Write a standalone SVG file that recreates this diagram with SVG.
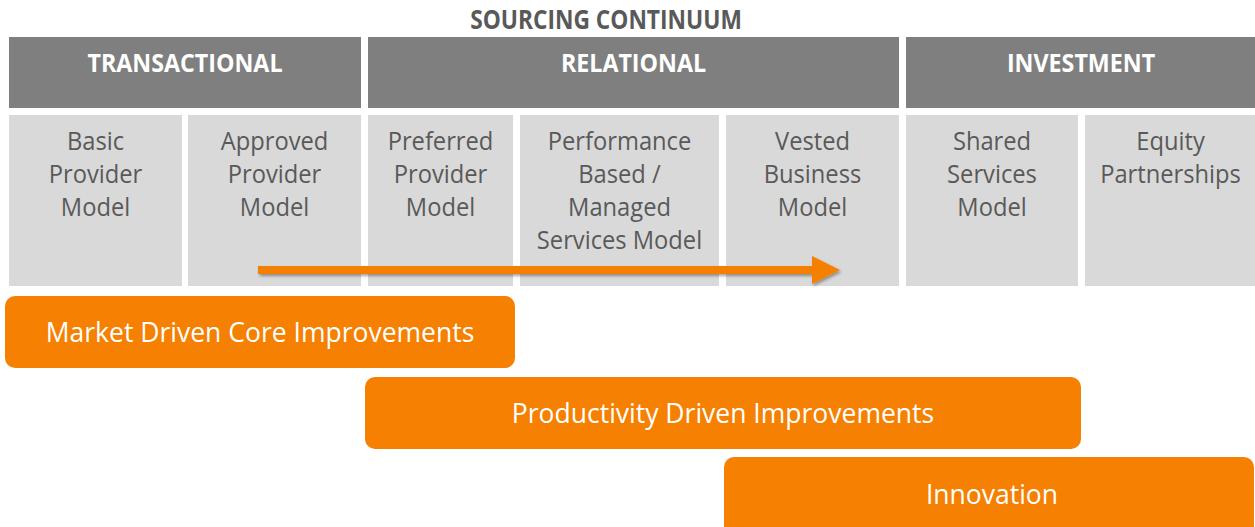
<svg xmlns="http://www.w3.org/2000/svg" width="1255" height="527" viewBox="0 0 1255 527">
<style>
.hdr{fill:#7F7F7F}
.cell{fill:#D9D9D9}
.bar{fill:#F58002}
.title{font-family:"Open Sans","Liberation Sans",sans-serif;font-weight:bold;font-size:26px;fill:#595959;text-anchor:middle}
.ht{font-family:"Open Sans","Liberation Sans",sans-serif;font-weight:bold;font-size:25px;fill:#FFFFFF;text-anchor:middle}
.ct{font-family:"Open Sans","Liberation Sans",sans-serif;font-size:25.5px;fill:#595959;text-anchor:middle}
.bt{font-family:"Open Sans","Liberation Sans",sans-serif;font-size:26.5px;fill:#FFFFFF;text-anchor:middle}
</style>
<defs>
<filter id="sh" x="-5%" y="-50%" width="110%" height="200%">
<feDropShadow dx="1.5" dy="2" stdDeviation="1.5" flood-color="#000" flood-opacity="0.35"/>
</filter>
</defs>
<rect width="1255" height="527" fill="#FFFFFF"/>
<g transform="translate(606 0) scale(0.875 1)"><text class="title" x="0" y="29">SOURCING CONTINUUM</text></g>

<g id="hdr-transactional"><rect class="hdr" x="9" y="37" width="352" height="71"/><g transform="translate(185 0) scale(0.93 1)"><text class="ht" x="0" y="72">TRANSACTIONAL</text></g></g>
<g id="hdr-relational"><rect class="hdr" x="368" y="37" width="531" height="71"/><g transform="translate(633.5 0) scale(0.93 1)"><text class="ht" x="0" y="72">RELATIONAL</text></g></g>
<g id="hdr-investment"><rect class="hdr" x="906" y="37" width="350" height="71"/><g transform="translate(1081 0) scale(0.93 1)"><text class="ht" x="0" y="72">INVESTMENT</text></g></g>

<g id="cell-basic"><rect class="cell" x="9" y="115" width="173" height="171"/><g transform="translate(95.5 0) scale(0.93 1)"><text class="ct" x="0" y="150">Basic</text><text class="ct" x="0" y="183">Provider</text><text class="ct" x="0" y="216">Model</text></g></g>
<g id="cell-approved"><rect class="cell" x="188" y="115" width="173" height="171"/><g transform="translate(274.5 0) scale(0.93 1)"><text class="ct" x="0" y="150">Approved</text><text class="ct" x="0" y="183">Provider</text><text class="ct" x="0" y="216">Model</text></g></g>
<g id="cell-preferred"><rect class="cell" x="368" y="115" width="145" height="171"/><g transform="translate(440.5 0) scale(0.93 1)"><text class="ct" x="0" y="150">Preferred</text><text class="ct" x="0" y="183">Provider</text><text class="ct" x="0" y="216">Model</text></g></g>
<g id="cell-performance"><rect class="cell" x="520" y="115" width="199" height="171"/><g transform="translate(619.5 0) scale(0.93 1)"><text class="ct" x="0" y="150">Performance</text><text class="ct" x="0" y="183">Based /</text><text class="ct" x="0" y="216">Managed</text><text class="ct" x="0" y="249">Services Model</text></g></g>
<g id="cell-vested"><rect class="cell" x="726" y="115" width="173" height="171"/><g transform="translate(812.5 0) scale(0.93 1)"><text class="ct" x="0" y="150">Vested</text><text class="ct" x="0" y="183">Business</text><text class="ct" x="0" y="216">Model</text></g></g>
<g id="cell-shared"><rect class="cell" x="906" y="115" width="172" height="171"/><g transform="translate(992 0) scale(0.93 1)"><text class="ct" x="0" y="150">Shared</text><text class="ct" x="0" y="183">Services</text><text class="ct" x="0" y="216">Model</text></g></g>
<g id="cell-equity"><rect class="cell" x="1085" y="115" width="171" height="171"/><g transform="translate(1170.5 0) scale(0.93 1)"><text class="ct" x="0" y="150">Equity</text><text class="ct" x="0" y="183">Partnerships</text></g></g>

<g id="connectors">
<g filter="url(#sh)">
<rect class="bar" x="258" y="266" width="556" height="8"/>
<polygon class="bar" points="812,256 840,270 812,284"/>
</g>
</g>

<g id="bar-market"><rect class="bar" x="5" y="296" width="510" height="72" rx="10"/><text class="bt" x="260" y="342">Market Driven Core Improvements</text></g>
<g id="bar-productivity"><rect class="bar" x="365" y="377" width="716" height="72" rx="10"/><text class="bt" x="723" y="423">Productivity Driven Improvements</text></g>
<g id="bar-innovation"><rect class="bar" x="724" y="457" width="530" height="80" rx="10"/><text class="bt" x="992" y="504">Innovation</text></g>
</svg>
